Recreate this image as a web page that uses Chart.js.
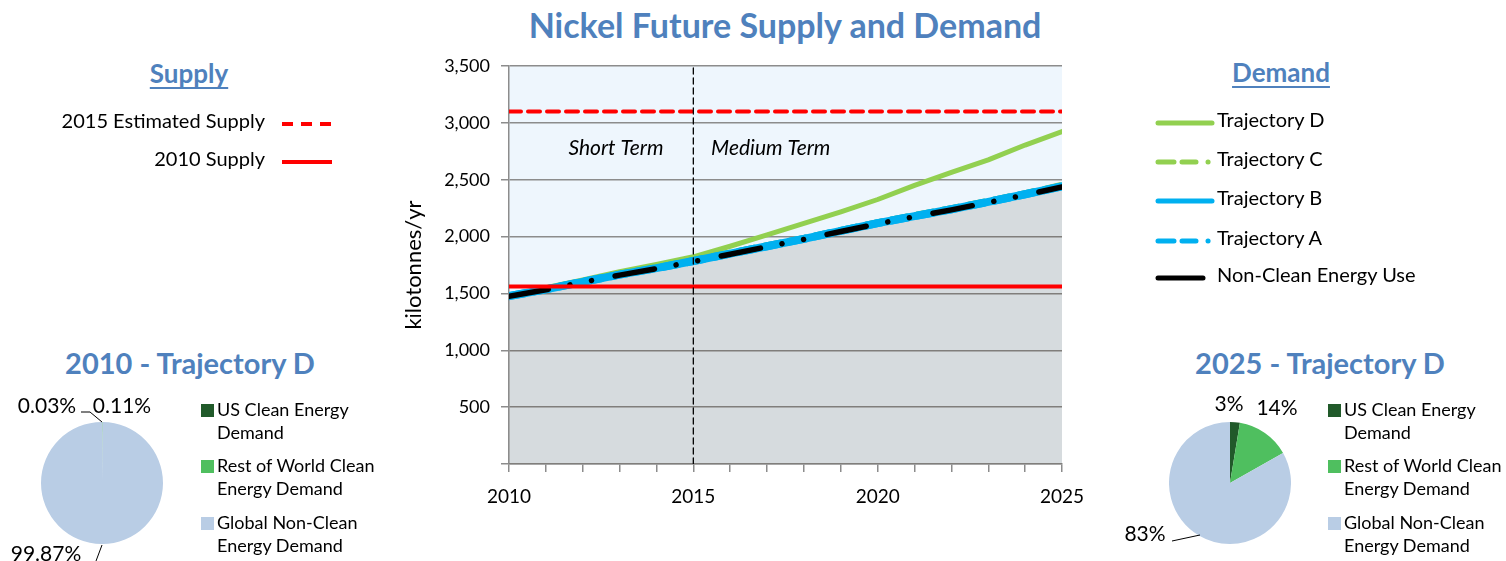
<!DOCTYPE html>
<html>
<head>
<meta charset="utf-8">
<script src="https://cdn.jsdelivr.net/npm/chart.js@4.4.1/dist/chart.umd.min.js"></script>
<style>
  body { margin: 0; background: #fff; font-family: Lato, 'Open Sans', sans-serif; color: #000; }
  #page { position: relative; width: 1506px; height: 561px; overflow: hidden; }
  .abs { position: absolute; white-space: nowrap; }
  .head { color: #4f81bd; font-weight: bold; text-align: center; }
  .u { text-decoration: underline; text-underline-offset: 4px; text-decoration-thickness: 2px; }
  .lg { font-size: 20px; line-height: 24px; }
  .pl { font-size: 18px; line-height: 23px; }
  .pct { font-size: 21px; line-height: 24px; transform: translate(-50%, -50%); }
</style>
</head>
<body>
<div id="page">
  <div class="abs head" style="left:385px; top:5px; width:800px; font-size:34px; line-height:40px;">Nickel Future Supply and Demand</div>

  <div class="abs head u" style="left:89px; top:57px; width:200px; font-size:26px; line-height:32px;">Supply</div>
  <div class="abs head u" style="left:1181px; top:56px; width:200px; font-size:26px; line-height:32px;">Demand</div>

  <div class="abs head" style="left:40px; top:345px; width:300px; font-size:29px; line-height:36px;">2010 - Trajectory D</div>
  <div class="abs head" style="left:1170px; top:345px; width:300px; font-size:29px; line-height:36px;">2025 - Trajectory D</div>

  <div class="abs" style="left:380px; top:50px; width:720px; height:470px;"><canvas id="main"></canvas></div>
  <div class="abs" style="left:41px; top:422px; width:122px; height:122px;"><canvas id="pie2010"></canvas></div>
  <div class="abs" style="left:1169px; top:422px; width:122px; height:122px;"><canvas id="pie2025"></canvas></div>

  <svg class="abs" style="left:0; top:0;" width="1506" height="561">
    <polyline points="81,412 90,412 102,422" fill="none" stroke="#000" stroke-width="1"/>
    <polyline points="102,545 96,561" fill="none" stroke="#000" stroke-width="1"/>
    <polyline points="1172,541 1200,535" fill="none" stroke="#000" stroke-width="1"/>
  </svg>
  <div id="legends"></div>
</div>

<script>
// years on the x axis
const years = [2010, 2011, 2012, 2013, 2014, 2015, 2016, 2017, 2018, 2019, 2020, 2021, 2022, 2023, 2024, 2025];
// demand trajectories, kilotonnes/yr
const trajD = [1476, 1550, 1618, 1692, 1754, 1822, 1915, 2015, 2116, 2218, 2326, 2450, 2565, 2674, 2805, 2924];
const trajC = [1478, 1542, 1608, 1672, 1730, 1792, 1858, 1924, 1988, 2058, 2126, 2190, 2250, 2315, 2382, 2455];
const trajB = [1476, 1536, 1602, 1665, 1722, 1785, 1850, 1915, 1980, 2050, 2118, 2180, 2240, 2305, 2372, 2442];
const trajA = [1476, 1536, 1602, 1665, 1722, 1785, 1850, 1915, 1980, 2050, 2118, 2180, 2240, 2305, 2372, 2442];
const nonClean = [1474, 1533, 1598, 1661, 1718, 1780, 1845, 1910, 1975, 2045, 2112, 2175, 2235, 2300, 2366, 2436];
// supply levels
const supply2015 = 3100;
const supply2010 = 1560;
const splitYear = 2015;
const termLabels = ['Short Term', 'Medium Term'];
const termYears = [2012.9, 2017.1];
const termLevel = 2780;
// pie charts
const pieLabels = [['US Clean Energy', 'Demand'], ['Rest of World Clean', 'Energy Demand'], ['Global Non-Clean', 'Energy Demand']];
const pieColors = ['#215a2a', '#4fbf5f', '#b9cde5'];
const pie2010 = [0.03, 0.11, 99.87];
const pie2025 = [2.6, 14.2, 83.2];

const pts = vals => years.map((x, i) => ({ x: x, y: vals[i] }));
const flat = v => [{ x: years[0], y: v }, { x: years[years.length - 1], y: v }];

const dotDash = [40, 22, 0.01, 22, 0.01, 24];

const demandSets = [
  { label: 'Trajectory D', data: pts(trajD), borderColor: '#92d050', borderWidth: 5, order: 7 },
  { label: 'Trajectory C', data: pts(trajC), borderColor: '#92d050', borderWidth: 6, borderDash: [16, 10], order: 6 },
  { label: 'Trajectory B', data: pts(trajB), borderColor: '#00b0f0', borderWidth: 8, order: 4 },
  { label: 'Trajectory A', data: pts(trajA), borderColor: '#00b0f0', borderWidth: 8, borderDash: [16, 10], order: 5 },
  { label: 'Non-Clean Energy Use', data: pts(nonClean), borderColor: '#000', borderWidth: 5.5, borderDash: dotDash,
    fill: 'origin', backgroundColor: 'rgba(38,21,3,0.12)', order: 3 }
];
const supplySets = [
  { label: '2015 Estimated Supply', data: flat(supply2015), borderColor: '#ff0000', borderWidth: 4, borderDash: [12, 7], order: 1 },
  { label: '2010 Supply', data: flat(supply2010), borderColor: '#ff0000', borderWidth: 4, order: 2 }
];
const splitSet = { label: 'split', data: [{ x: splitYear, y: 0 }, { x: splitYear, y: 3500 }],
  borderColor: '#000', borderWidth: 1.3, borderDash: [6, 4], order: 0 };

const plotBg = {
  id: 'plotBg',
  beforeDraw(chart) {
    const a = chart.chartArea, ctx = chart.ctx;
    ctx.save();
    ctx.fillStyle = '#eef6fd';
    ctx.fillRect(a.left, a.top, a.right - a.left, a.bottom - a.top);
    ctx.restore();
  }
};
const termText = {
  id: 'termText',
  afterDatasetsDraw(chart) {
    const ctx = chart.ctx, xs = chart.scales.x, ys = chart.scales.y;
    ctx.save();
    ctx.font = 'italic 21px Lato, sans-serif';
    ctx.fillStyle = '#000';
    ctx.textAlign = 'center';
    ctx.textBaseline = 'middle';
    termLabels.forEach((t, i) => ctx.fillText(t, xs.getPixelForValue(termYears[i]), ys.getPixelForValue(termLevel)));
    ctx.restore();
  }
};

const gridGray = '#8c8c8c';
Chart.defaults.font.family = "Lato, 'Open Sans', sans-serif";
Chart.defaults.color = '#000';

new Chart(document.getElementById('main'), {
  type: 'line',
  data: { datasets: [...demandSets, ...supplySets, splitSet] },
  options: {
    responsive: true,
    maintainAspectRatio: false,
    animation: false,
    layout: { padding: { top: 16, right: 38, left: 0, bottom: 0 } },
    elements: {
      point: { radius: 0, hoverRadius: 0 },
      line: { tension: 0, borderCapStyle: 'round', borderJoinStyle: 'round' }
    },
    plugins: {
      legend: { display: false },
      tooltip: { enabled: false },
      filler: { drawTime: 'beforeDatasetsDraw' }
    },
    scales: {
      x: {
        type: 'linear', min: 2010, max: 2025,
        afterFit(s) { s.height = 56; s.paddingLeft = 0; s.paddingRight = 0; },
        grid: { drawOnChartArea: false, tickLength: 8, color: gridGray, lineWidth: 1.5 },
        border: { color: gridGray, width: 1.5 },
        ticks: { stepSize: 1, autoSkip: false, maxRotation: 0, padding: 13, font: { size: 19 },
          callback: v => (v % 5 === 0 ? String(v) : '') }
      },
      y: {
        min: 0, max: 3500,
        afterFit(s) { s.width = 129; s.paddingTop = 0; s.paddingBottom = 0; },
        grid: { color: gridGray, lineWidth: 1.5, tickLength: 8 },
        border: { color: gridGray, width: 1.5 },
        ticks: { stepSize: 500, padding: 11, font: { size: 18 },
          callback: v => (v === 0 ? '' : v.toLocaleString('en-US')) },
        title: { display: true, text: 'kilotonnes/yr', font: { size: 22 }, padding: { top: 21, bottom: 0 } }
      }
    }
  },
  plugins: [plotBg, termText]
});

function pie(id, values) {
  new Chart(document.getElementById(id), {
    type: 'pie',
    data: { labels: pieLabels.map(l => l.join(' ')), datasets: [{ data: values, backgroundColor: pieColors, borderWidth: 0 }] },
    options: {
      responsive: true, maintainAspectRatio: false, animation: false,
      plugins: { legend: { display: false }, tooltip: { enabled: false } }
    }
  });
}
pie('pie2010', pie2010);
pie('pie2025', pie2025);

// html legends and labels
const box = document.getElementById('legends');
function add(html, style, cls) {
  const d = document.createElement('div');
  d.className = 'abs ' + (cls || '');
  d.style.cssText = style;
  d.innerHTML = html;
  box.appendChild(d);
}
function lineSvg(w, color, width, dash, cap) {
  return '<svg width="' + (w + 8) + '" height="12"><line x1="4" y1="6" x2="' + (w + 4) + '" y2="6" stroke="' + color +
    '" stroke-width="' + width + '" stroke-linecap="' + (cap || 'round') + '"' + (dash ? ' stroke-dasharray="' + dash + '"' : '') + '/></svg>';
}

// supply legend
const supplyRowY = [120, 158];
supplySets.forEach((s, i) => {
  add(s.label, 'right:' + (1506 - 265) + 'px; top:' + (supplyRowY[i] - 12) + 'px;', 'lg');
  add(lineSvg(50, s.borderColor, 4, s.borderDash ? '11 8' : null, 'butt'), 'left:278px; top:' + (supplyRowY[i] - 6) + 'px;');
});

// demand legend
const demandRowY = [119, 158, 197, 237, 274];
const legendDash = '16 8 14 12 0.1 20';
demandSets.forEach((s, i) => {
  const w = i === 4 ? 45 : 54;
  add(lineSvg(w, s.borderColor, 5, s.borderDash && i < 4 ? legendDash : null), 'left:1154px; top:' + (demandRowY[i] - 6) + 'px;');
  add(s.label, 'left:1217px; top:' + (demandRowY[i] - 12) + 'px;', 'lg');
});

// pie legends
const pieRowY = [410, 466, 523];
[[201, 217], [1328, 1344]].forEach(p => {
  pieLabels.forEach((l, i) => {
    add('', 'left:' + p[0] + 'px; top:' + (pieRowY[i] - 6) + 'px; width:13px; height:13px; background:' + pieColors[i] + ';');
    add(l.join('<br>'), 'left:' + p[1] + 'px; top:' + (pieRowY[i] - 12) + 'px;', 'pl');
  });
});

// pie percentage labels
const fmt2 = v => v.toFixed(2) + '%';
const fmt0 = v => Math.round(v) + '%';
const pct2010Pos = [[47, 405], [122, 405], [46, 553]];
const pct2025Pos = [[1229, 403], [1277, 407], [1145, 533]];
pie2010.forEach((v, i) => add(fmt2(v), 'left:' + pct2010Pos[i][0] + 'px; top:' + pct2010Pos[i][1] + 'px;', 'pct'));
pie2025.forEach((v, i) => add(fmt0(v), 'left:' + pct2025Pos[i][0] + 'px; top:' + pct2025Pos[i][1] + 'px;', 'pct'));
</script>
</body>
</html>
